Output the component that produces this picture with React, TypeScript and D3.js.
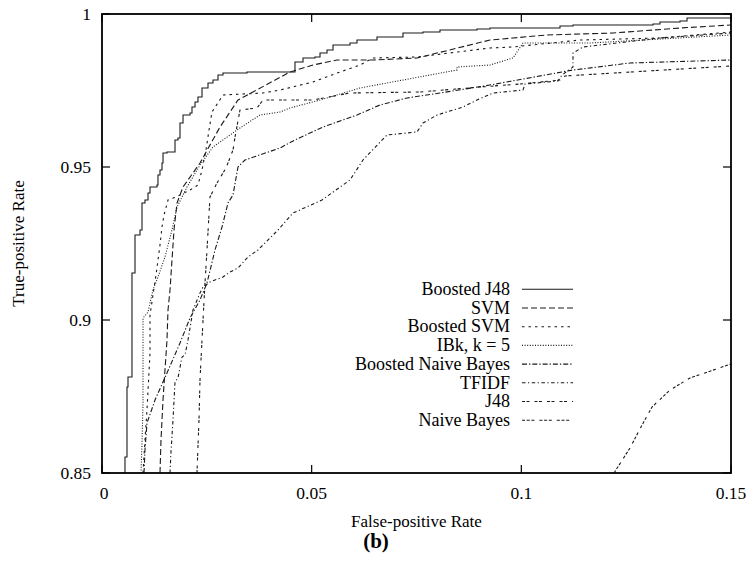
import React from 'react';
import * as d3 from 'd3';

// ---------- data ----------
const seriesNames = ['Boosted J48', 'SVM', 'Boosted SVM', 'IBk, k = 5', 'Boosted Naive Bayes', 'TFIDF', 'J48', 'Naive Bayes'];

const boostedJ48Fpr = [0.00548, 0.00548, 0.00596, 0.00596, 0.0062, 0.00715, 0.00715, 0.00787, 0.00906, 0.00954, 0.01025, 0.01097, 0.01145, 0.01312, 0.01335, 0.01383, 0.01431, 0.01455, 0.0155, 0.01741, 0.01812, 0.0186, 0.01932, 0.02099, 0.02146, 0.02218, 0.02289, 0.02385, 0.02528, 0.02647, 0.02766, 0.02885, 0.03458, 0.04483, 0.04602, 0.04793, 0.05079, 0.05199, 0.05366, 0.05509, 0.05914, 0.06081, 0.06558, 0.07178, 0.07655, 0.0806, 0.08943, 0.09253, 0.10922, 0.11232, 0.1314, 0.13307, 0.13784, 0.13951, 0.15];
const boostedJ48Tpr = [0.85, 0.85523, 0.85588, 0.8781, 0.88137, 0.88268, 0.91536, 0.92778, 0.92941, 0.93824, 0.93922, 0.9415, 0.94346, 0.94412, 0.94739, 0.94902, 0.95131, 0.95458, 0.9549, 0.95882, 0.95948, 0.96438, 0.96699, 0.96765, 0.96961, 0.97124, 0.97288, 0.97582, 0.97745, 0.97843, 0.98007, 0.98072, 0.98105, 0.98105, 0.98431, 0.98562, 0.98595, 0.98726, 0.98824, 0.98987, 0.99052, 0.9915, 0.99248, 0.99379, 0.99412, 0.99477, 0.9951, 0.99542, 0.99608, 0.99641, 0.99673, 0.99739, 0.99771, 0.99869, 0.99902];

const svmFpr = [0.01383, 0.01407, 0.01455, 0.01502, 0.0155, 0.01574, 0.01622, 0.01669, 0.01717, 0.01789, 0.01932, 0.02337, 0.02814, 0.03243, 0.04483, 0.05032, 0.05604, 0.06463, 0.07512, 0.09253, 0.09801, 0.10612, 0.12186, 0.13784, 0.15];
const svmTpr = [0.85, 0.86078, 0.87386, 0.88366, 0.89346, 0.90327, 0.9098, 0.91961, 0.92941, 0.93824, 0.94346, 0.95131, 0.96307, 0.9719, 0.98105, 0.98333, 0.98497, 0.98497, 0.98562, 0.9915, 0.99216, 0.99314, 0.99379, 0.99542, 0.99641];

const boostedSvmFpr = [0.00978, 0.01025, 0.01073, 0.01145, 0.01145, 0.01216, 0.01288, 0.01383, 0.01431, 0.01479, 0.01574, 0.01765, 0.02099, 0.02289, 0.02385, 0.0248, 0.02552, 0.02623, 0.02885, 0.03839, 0.04245, 0.05032, 0.05676, 0.06153, 0.06463, 0.07512, 0.09253, 0.09801, 0.11399, 0.13307, 0.15];
const boostedSvmTpr = [0.85, 0.86078, 0.87059, 0.88922, 0.90163, 0.90817, 0.91471, 0.92451, 0.93039, 0.93431, 0.93922, 0.9402, 0.94248, 0.94412, 0.94902, 0.95556, 0.96209, 0.96797, 0.97353, 0.97418, 0.97516, 0.97778, 0.98105, 0.98333, 0.98562, 0.98595, 0.98889, 0.98922, 0.9915, 0.99216, 0.99412];

const ibkFpr = [0.0093, 0.00954, 0.00978, 0.00978, 0.01097, 0.01216, 0.01335, 0.01502, 0.01669, 0.01789, 0.02027, 0.02337, 0.02647, 0.03291, 0.03768, 0.04245, 0.04483, 0.05199, 0.06153, 0.08466, 0.08466, 0.09253, 0.09801, 0.1004, 0.11637, 0.15];
const ibkTpr = [0.85, 0.8598, 0.87288, 0.90065, 0.90261, 0.9098, 0.91405, 0.92059, 0.92941, 0.93693, 0.94346, 0.95065, 0.95654, 0.96275, 0.96699, 0.96797, 0.96928, 0.9719, 0.97582, 0.9817, 0.98268, 0.98333, 0.98562, 0.99052, 0.99052, 0.99314];

const boostedNbFpr = [0.01002, 0.01025, 0.01073, 0.01264, 0.0155, 0.0186, 0.02099, 0.02337, 0.02504, 0.02695, 0.02862, 0.03005, 0.03124, 0.03243, 0.0341, 0.04245, 0.04602, 0.0527, 0.06081, 0.06629, 0.07273, 0.0806, 0.09253, 0.11232, 0.12591, 0.15];
const boostedNbTpr = [0.85, 0.85752, 0.86634, 0.87386, 0.88268, 0.89248, 0.90065, 0.90654, 0.91209, 0.92288, 0.93039, 0.93824, 0.94085, 0.95, 0.95229, 0.95621, 0.95882, 0.96307, 0.96699, 0.97026, 0.97255, 0.97418, 0.9768, 0.9817, 0.98399, 0.98497];

const tfidfFpr = [0.01622, 0.01645, 0.01693, 0.01741, 0.01812, 0.01908, 0.01979, 0.02051, 0.0217, 0.02337, 0.02409, 0.02575, 0.02885, 0.03052, 0.03243, 0.03482, 0.0372, 0.04197, 0.04555, 0.05246, 0.05914, 0.06224, 0.06796, 0.07512, 0.07655, 0.07989, 0.08609, 0.08943, 0.09324, 0.1004, 0.10087, 0.10874, 0.1097, 0.11232, 0.11232, 0.1147, 0.13307, 0.15];
const tfidfTpr = [0.85, 0.85686, 0.86732, 0.87974, 0.88105, 0.88791, 0.88856, 0.89346, 0.90327, 0.90882, 0.91078, 0.91242, 0.91405, 0.91569, 0.91699, 0.92059, 0.92288, 0.92941, 0.93497, 0.93922, 0.94575, 0.95229, 0.96046, 0.96144, 0.96438, 0.96699, 0.96961, 0.9719, 0.97418, 0.97516, 0.97712, 0.97811, 0.98007, 0.98268, 0.98726, 0.98922, 0.99216, 0.99379];

const j48Fpr = [0.02265, 0.02313, 0.02337, 0.02409, 0.02456, 0.02504, 0.02575, 0.02742, 0.02957, 0.03124, 0.03172, 0.03291, 0.03696, 0.03839, 0.05032, 0.05914, 0.07583, 0.09014, 0.09968, 0.10922, 0.11041, 0.15];
const j48Tpr = [0.85, 0.86732, 0.88039, 0.9, 0.91209, 0.92288, 0.9402, 0.94477, 0.94967, 0.95556, 0.9598, 0.96863, 0.96928, 0.9719, 0.9719, 0.97418, 0.97451, 0.97614, 0.97712, 0.97843, 0.97974, 0.98301];

const naiveBayesFpr = [0.1221, 0.12591, 0.12853, 0.13116, 0.13545, 0.14022, 0.15];
const naiveBayesTpr = [0.85, 0.85817, 0.86503, 0.87157, 0.87712, 0.88105, 0.88562];

const xTicks = [0, 0.05, 0.1, 0.15];
const xTickLabels = ['0', '0.05', '0.1', '0.15'];
const yTicks = [0.85, 0.9, 0.95, 1];
const yTickLabels = ['0.85', '0.9', '0.95', '1'];

// ---------- styles ----------
const dashes = ['', '6,3', '2.5,4', '1,1.6', '5,2,1.3,2', '3.5,2.5,1.2,2.5', '3,1.5,3,5', '3,1.7,3,1.7,3,5'];
const FONT = 'Liberation Serif, DejaVu Serif, serif';
const txt = { fontFamily: FONT };

const W = 753, H = 570;
const L = 102, R = 731, T = 14, B = 473;

export default function App() {
  const x = d3.scaleLinear().domain([0, 0.15]).range([L, R]);
  const y = d3.scaleLinear().domain([0.85, 1]).range([B, T]);

  const series = [
    { f: boostedJ48Fpr, t: boostedJ48Tpr, step: true },
    { f: svmFpr, t: svmTpr },
    { f: boostedSvmFpr, t: boostedSvmTpr },
    { f: ibkFpr, t: ibkTpr },
    { f: boostedNbFpr, t: boostedNbTpr },
    { f: tfidfFpr, t: tfidfTpr },
    { f: j48Fpr, t: j48Tpr },
    { f: naiveBayesFpr, t: naiveBayesTpr },
  ];

  const lineGen = (step: boolean) =>
    d3.line<[number, number]>()
      .x(d => x(d[0]))
      .y(d => y(d[1]))
      .curve(step ? d3.curveStepAfter : d3.curveLinear);

  const tickLen = 8;
  const legendBase = 295;
  const legendStep = 18.7;

  return (
    <svg width={W} height={H} style={{ position: 'absolute', left: 0, top: 0, background: '#fff', fontFamily: FONT }}>
      <rect x={0} y={0} width={W} height={H} fill="#fff" />
      <defs>
        <clipPath id="plotclip">
          <rect x={L} y={T} width={R - L} height={B - T} />
        </clipPath>
      </defs>

      {/* curves */}
      <g clipPath="url(#plotclip)" fill="none" stroke="#1a1a1a" strokeWidth={1.1}>
        {series.map((s, i) => {
          const pts = s.f.map((v, k) => [v, s.t[k]] as [number, number]);
          return <path key={i} d={lineGen(!!s.step)(pts) || ''} strokeDasharray={dashes[i] || undefined} />;
        })}
      </g>

      {/* ticks (mirrored) */}
      <g stroke="#000" strokeWidth={1.2}>
        {xTicks.map((v, i) => (
          <g key={'xt' + i}>
            <line x1={x(v)} x2={x(v)} y1={B} y2={B - tickLen} />
            <line x1={x(v)} x2={x(v)} y1={T} y2={T + tickLen} />
          </g>
        ))}
        {yTicks.map((v, i) => (
          <g key={'yt' + i}>
            <line x1={L} x2={L + tickLen} y1={y(v)} y2={y(v)} />
            <line x1={R} x2={R - tickLen} y1={y(v)} y2={y(v)} />
          </g>
        ))}
      </g>

      {/* frame */}
      <rect x={L} y={T} width={R - L} height={B - T} fill="none" stroke="#000" strokeWidth={1.8} />

      {/* tick labels */}
      <g fontSize={17.5} fill="#000">
        {xTicks.map((v, i) => (
          <text key={'xl' + i} style={txt} x={x(v) + (i === 0 ? 2 : 0)} y={498.5} textAnchor="middle">{xTickLabels[i]}</text>
        ))}
        {yTicks.map((v, i) => (
          <text key={'yl' + i} style={txt} x={91} y={y(v) + 6} textAnchor="end">{yTickLabels[i]}</text>
        ))}
      </g>

      {/* axis titles */}
      <text style={txt} x={(L + R) / 2} y={527} textAnchor="middle" fontSize={17}>False-positive Rate</text>
      <text style={txt} transform={`translate(24, ${(T + B) / 2}) rotate(-90)`} textAnchor="middle" fontSize={17}>True-positive Rate</text>
      <text style={txt} x={376} y={548} textAnchor="middle" fontSize={21} fontWeight="bold">(b)</text>

      {/* legend */}
      <g>
        {seriesNames.map((name, i) => {
          const by = legendBase + i * legendStep;
          return (
            <g key={'lg' + i}>
              <text style={txt} x={510} y={by} textAnchor="end" fontSize={18}>{name}</text>
              <line x1={522} x2={573} y1={by - 5.7} y2={by - 5.7} stroke="#1a1a1a" strokeWidth={1.1}
                strokeDasharray={dashes[i] || undefined} />
            </g>
          );
        })}
      </g>
    </svg>
  );
}
